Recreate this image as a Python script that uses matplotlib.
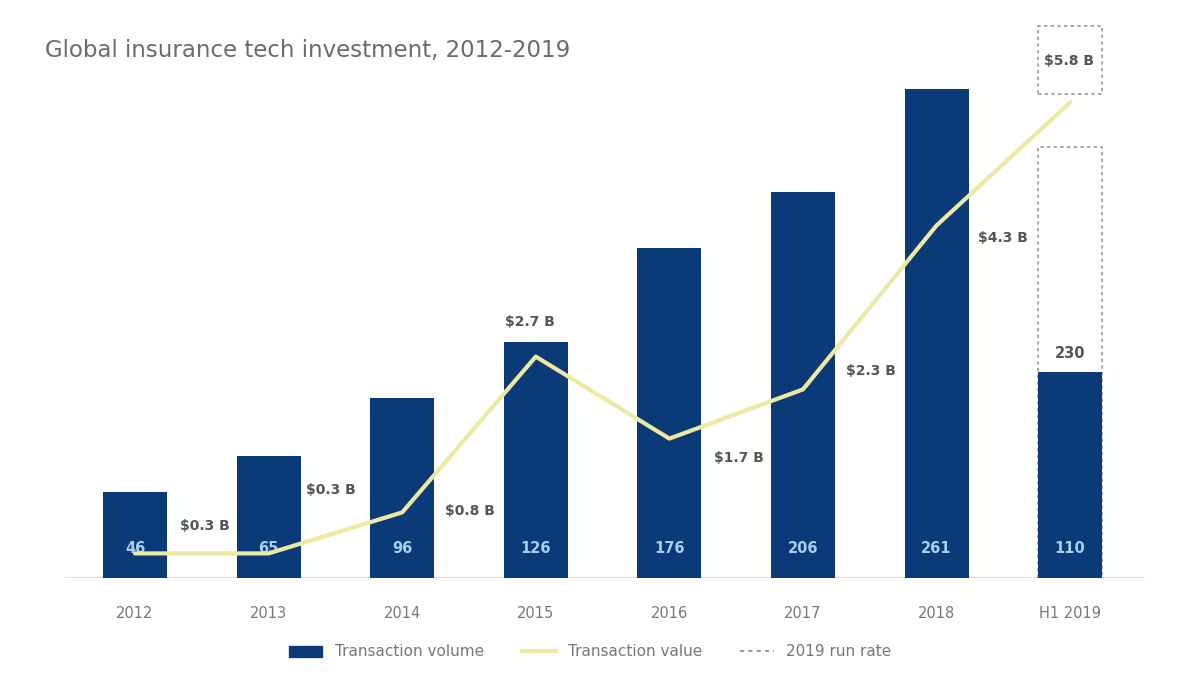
import numpy as np
import matplotlib.pyplot as plt
from matplotlib.patches import Rectangle
from matplotlib.lines import Line2D
from matplotlib.patches import Patch

# --- data ---
years = ['2012', '2013', '2014', '2015', '2016', '2017', '2018', 'H1 2019']
deal_counts = [46, 65, 96, 126, 176, 206, 261, 110]
run_rate_count = 230
deal_values = [0.3, 0.3, 0.8, 2.7, 1.7, 2.3, 4.3, 5.8]   # $B, last point = 2019 run rate

# label offsets for the value line (points)
val_offsets = [(50, 20), (45, 46), (49, 1), (-4, 25), (50, -14), (49, 13), (48, -9), (-1, 30)]

navy = '#0b3a78'
line_col = '#ece9a2'
grey_txt = '#6b6b6b'

fig = plt.figure(figsize=(12, 6.84), dpi=100)
ax = fig.add_axes([65 / 1200, (684 - 578) / 684, 1080 / 1200, 558 / 684])
x = np.arange(len(years))

# run-rate dashed outline behind the H1 2019 bar
ax.bar(x[-1], run_rate_count, width=0.48, fill=False, edgecolor='#9a9a9a',
       linestyle=(0, (2, 2)), linewidth=1.2, zorder=1)
ax.bar(x, deal_counts, width=0.48, color=navy, zorder=2)

for xi, c in zip(x, deal_counts):
    ax.text(xi, 12, str(c), ha='center', va='bottom', color='#a9cff0',
            fontsize=10.5, fontweight='bold', zorder=3)
ax.text(x[-1], deal_counts[-1] + 6, str(run_rate_count), ha='center', va='bottom',
        color='#555555', fontsize=10.5, fontweight='bold')

ax.set_xlim(-0.524, 7.56)
ax.set_ylim(0, 298)
ax.axhline(0, color='#dddddd', linewidth=1.5, zorder=0)
for s in ax.spines.values():
    s.set_visible(False)
ax.set_yticks([])
ax.set_xticks(x)
ax.set_xticklabels(years, color='#777777', fontsize=10.5)
ax.tick_params(axis='x', length=0, pad=20)

ax2 = ax.twinx()
ax2.set_ylim(0, 558 / 82)
ax2.set_yticks([])
for s in ax2.spines.values():
    s.set_visible(False)
ax2.plot(x, deal_values, color=line_col, linewidth=3, solid_capstyle='round', zorder=4)

for xi, v, off in zip(x, deal_values, val_offsets):
    ax2.annotate('$%.1f B' % v, (xi, v), xytext=off, textcoords='offset points',
                 ha='center', va='center', color='#555555', fontsize=10, fontweight='bold')

# dashed box around the run-rate value label
ax2.add_patch(Rectangle((x[-1] - 0.24, deal_values[-1] + 0.1), 0.48, 0.83, fill=False,
                        edgecolor='#9a9a9a', linestyle=(0, (2, 2)), linewidth=1.2,
                        clip_on=False))

fig.text(45 / 1200, 1 - 50 / 684, 'Global insurance tech investment, 2012-2019',
         color=grey_txt, fontsize=16.5, va='center', ha='left')

handles = [Patch(color=navy), Line2D([], [], color=line_col, linewidth=3),
           Line2D([], [], color='#9a9a9a', linewidth=1.5, linestyle=(0, (2, 2)))]
fig.legend(handles, ['Transaction volume', 'Transaction value', '2019 run rate'],
           loc='center', bbox_to_anchor=(590 / 1200, 1 - 652 / 684), ncol=3,
           frameon=False, fontsize=11, labelcolor='#777777', handlelength=2.2,
           columnspacing=2.5)

fig.savefig('out.png', dpi=100)
